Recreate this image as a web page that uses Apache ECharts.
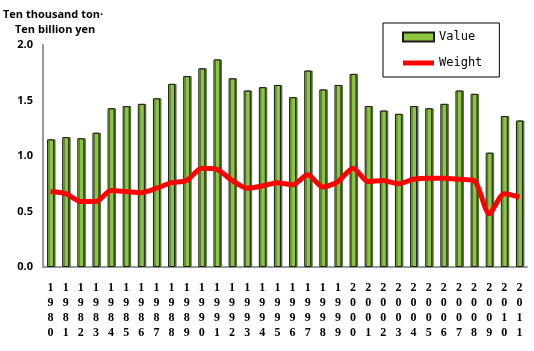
<!DOCTYPE html>
<html>
<head>
<meta charset="utf-8">
<script src="https://cdn.jsdelivr.net/npm/echarts@6/dist/echarts.min.js"></script>
<style>
  html, body { margin: 0; padding: 0; background: #fff; }
  #chart { width: 534px; height: 351px; }
</style>
</head>
<body>
<div id="chart"></div>
<script>
const years = ['1980', '1981', '1982', '1983', '1984', '1985', '1986', '1987', '1988', '1989',
  '1990', '1991', '1992', '1993', '1994', '1995', '1996', '1997', '1998', '1999',
  '2000', '2001', '2002', '2003', '2004', '2005', '2006', '2007', '2008', '2009', '2010', '2011'];

// Value (ten billion yen)
const valueData = [1.15, 1.17, 1.16, 1.21, 1.43, 1.45, 1.47, 1.52, 1.65, 1.72,
  1.79, 1.87, 1.70, 1.59, 1.62, 1.64, 1.53, 1.77, 1.60, 1.64,
  1.74, 1.45, 1.41, 1.38, 1.45, 1.43, 1.47, 1.59, 1.56, 1.03, 1.36, 1.32];

// Weight (ten thousand ton)
const weightData = [0.68, 0.66, 0.59, 0.59, 0.69, 0.68, 0.67, 0.71, 0.76, 0.78,
  0.89, 0.88, 0.78, 0.71, 0.73, 0.76, 0.74, 0.83, 0.72, 0.77,
  0.89, 0.77, 0.78, 0.75, 0.79, 0.80, 0.80, 0.79, 0.78, 0.48, 0.66, 0.63];

const COLORS = {
  bar: '#8CC63F',
  barEdge: '#1a1a1a',
  line: '#FF0000',
  axis: '#999999'
};

const chart = echarts.init(document.getElementById('chart'));

const option = {
  animation: false,
  backgroundColor: '#fff',
  graphic: [
    {
      type: 'text',
      left: 3,
      top: 9,
      style: {
        text: 'Ten thousand ton·',
        fontFamily: 'Open Sans, sans-serif',
        fontWeight: 'bold',
        fontSize: 11,
        fill: '#000'
      }
    },
    {
      type: 'text',
      left: 15,
      top: 24,
      style: {
        text: 'Ten billion yen',
        fontFamily: 'Open Sans, sans-serif',
        fontWeight: 'bold',
        fontSize: 11,
        fill: '#000'
      }
    }
  ],
  legend: {
    orient: 'vertical',
    left: 383,
    top: 23,
    padding: [8, 17, 8, 19],
    itemGap: 14,
    itemWidth: 31,
    itemHeight: 9,
    borderColor: '#000',
    borderWidth: 1,
    textStyle: {
      fontFamily: 'DejaVu Sans Mono, monospace',
      fontSize: 12,
      color: '#000'
    },
    data: [
      { name: 'Value', icon: 'rect' },
      {
        name: 'Weight',
        icon: 'path://M0,0 L31,0 L31,5 L0,5 Z',
        itemStyle: { color: COLORS.line, borderWidth: 0 }
      }
    ]
  },
  grid: {
    left: 43,
    right: 7,
    top: 45,
    bottom: 84
  },
  xAxis: {
    type: 'category',
    data: years,
    axisLine: { lineStyle: { color: COLORS.axis, width: 2 } },
    axisTick: { show: false },
    axisLabel: {
      interval: 0,
      margin: 14,
      fontFamily: 'Liberation Serif, serif',
      fontWeight: 'bold',
      fontSize: 12,
      lineHeight: 14.7,
      color: '#000',
      formatter: v => v.split('').join('\n')
    }
  },
  yAxis: {
    type: 'value',
    min: 0,
    max: 2,
    interval: 0.5,
    axisLine: { show: true, lineStyle: { color: COLORS.axis, width: 2 } },
    axisTick: { show: false },
    splitLine: { show: false },
    axisLabel: {
      margin: 10,
      fontFamily: 'Open Sans, sans-serif',
      fontWeight: 'bold',
      fontSize: 11,
      color: '#000',
      formatter: v => v.toFixed(1)
    }
  },
  series: [
    {
      name: 'Value',
      type: 'bar',
      data: valueData,
      barWidth: 7,
      itemStyle: {
        color: COLORS.bar,
        borderColor: COLORS.barEdge,
        borderWidth: 1,
        shadowColor: 'rgba(60, 90, 30, 0.8)',
        shadowOffsetX: 1.5,
        shadowBlur: 0
      }
    },
    {
      name: 'Weight',
      type: 'line',
      data: weightData,
      smooth: 0.25,
      showSymbol: false,
      symbol: 'none',
      lineStyle: { color: COLORS.line, width: 5 },
      itemStyle: { color: COLORS.line }
    }
  ]
};

chart.setOption(option);
</script>
</body>
</html>
